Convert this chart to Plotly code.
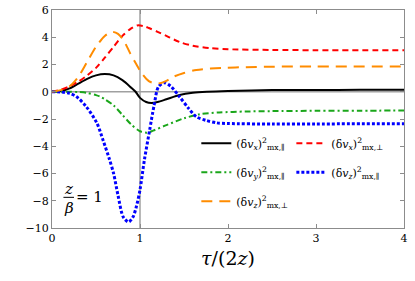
import plotly.graph_objects as go

# ---- data ----
black_x = [0, 0.1, 0.2, 0.3, 0.4, 0.5, 0.6, 0.7, 0.8, 0.9, 0.95, 1.0, 1.07, 1.13, 1.2, 1.3, 1.45, 1.6, 1.76, 2.0, 2.5, 3.0, 3.5, 4.0]
black_y = [0, 0.05, 0.25, 0.6, 0.95, 1.2, 1.3, 1.2, 0.85, 0.3, 0.0, -0.45, -0.75, -0.82, -0.75, -0.55, -0.24, -0.08, 0.0, 0.06, 0.12, 0.13, 0.14, 0.15]

red_x = [0, 0.1, 0.2, 0.3, 0.4, 0.5, 0.6, 0.7, 0.8, 0.9, 0.97, 1.05, 1.1, 1.2, 1.3, 1.45, 1.6, 1.8, 2.0, 2.5, 3.0, 4.0]
red_y = [0, 0.15, 0.4, 0.75, 1.2, 1.75, 2.5, 3.3, 4.1, 4.65, 4.87, 4.8, 4.68, 4.4, 4.1, 3.65, 3.38, 3.2, 3.12, 3.07, 3.05, 3.05]

orange_x = [0, 0.1, 0.2, 0.3, 0.4, 0.5, 0.6, 0.68, 0.75, 0.82, 0.89, 0.96, 1.02, 1.1, 1.17, 1.23, 1.3, 1.38, 1.5, 1.64, 1.8, 1.95, 2.2, 2.5, 3.0, 4.0]
orange_y = [0, 0.12, 0.4, 1.1, 2.2, 3.3, 4.1, 4.4, 4.25, 3.7, 2.8, 2.0, 1.35, 0.78, 0.62, 0.63, 0.8, 1.1, 1.38, 1.6, 1.7, 1.76, 1.8, 1.84, 1.85, 1.86]

green_x = [0, 0.1, 0.2, 0.3, 0.4, 0.5, 0.55, 0.6, 0.7, 0.8, 0.9, 1.0, 1.08, 1.15, 1.3, 1.5, 1.68, 1.9, 2.2, 2.5, 3.0, 3.5, 4.0]
green_y = [0, 0, 0, -0.02, -0.08, -0.25, -0.37, -0.55, -1.0, -1.7, -2.4, -2.9, -3.0, -2.85, -2.45, -1.95, -1.65, -1.52, -1.45, -1.42, -1.4, -1.39, -1.38]

blue_x = [0, 0.1, 0.2, 0.28, 0.39, 0.51, 0.58, 0.65, 0.7, 0.75, 0.81, 0.87, 0.92, 0.96, 1.0, 1.05, 1.11, 1.16, 1.21, 1.28, 1.35, 1.45, 1.55, 1.64, 1.75, 1.87, 2.0, 2.5, 3.0, 4.0]
blue_y = [0, -0.02, -0.12, -0.37, -1.1, -2.3, -3.55, -4.9, -6.0, -7.6, -9.2, -9.56, -9.2, -8.4, -7.2, -5.0, -2.8, -1.0, 0.37, 0.66, 0.4, -0.37, -1.2, -1.84, -2.1, -2.28, -2.33, -2.37, -2.36, -2.35]

x_ticks = [0, 1, 2, 3, 4]
y_ticks = [-10, -8, -6, -4, -2, 0, 2, 4, 6]
y_tick_text = ["−10", "−8", "−6", "−4", "−2", "0", "2", "4", "6"]

names = {
    "black": "(δ<i>v</i><sub><i>x</i></sub>)<sup>2</sup><sub>mx,∥</sub>",
    "red": "(δ<i>v</i><sub><i>x</i></sub>)<sup>2</sup><sub>mx,⊥</sub>",
    "green": "(δ<i>v</i><sub><i>y</i></sub>)<sup>2</sup><sub>mx,∥</sub>",
    "blue": "(δ<i>v</i><sub><i>z</i></sub>)<sup>2</sup><sub>mx,∥</sub>",
    "orange": "(δ<i>v</i><sub><i>z</i></sub>)<sup>2</sup><sub>mx,⊥</sub>",
}

SERIF = "DejaVu Serif"

fig = go.Figure()
spec = [
    (black_x, black_y, "black", "#000000", "solid", 2, "legend"),
    (red_x, red_y, "red", "#ff0000", "6px,4px", 2, "legend2"),
    (green_x, green_y, "green", "#1aa61a", "6px,3px,2px,3px", 2, "legend"),
    (blue_x, blue_y, "blue", "#0000ff", "3px,2px", 3, "legend2"),
    (orange_x, orange_y, "orange", "#ff8c00", "11px,7px", 2, "legend"),
]
for xs, ys, key, col, dash, w, leg in spec:
    fig.add_trace(go.Scatter(
        x=xs, y=ys, mode="lines", name=names[key], legend=leg, legendgroup=key,
        line=dict(color=col, dash=dash, width=w, shape="spline", smoothing=0.8),
    ))

# reference lines at x=1 and y=0
fig.add_shape(type="line", xref="x", yref="paper", x0=1, x1=1, y0=0, y1=1,
              line=dict(color="#a0a0a0", width=1.5), layer="below")
fig.add_shape(type="line", xref="paper", yref="y", x0=0, x1=1, y0=0, y1=0,
              line=dict(color="#a0a0a0", width=1.5), layer="below")

# z/beta = 1 annotation as a stacked fraction
fig.add_annotation(x=0.19, y=-7.15, text="<i>z</i>", showarrow=False,
                   font=dict(family=SERIF, size=15, color="black"))
fig.add_annotation(x=0.19, y=-8.5, text="<i>β</i>", showarrow=False,
                   font=dict(family=SERIF, size=15, color="black"))
fig.add_shape(type="line", xref="x", yref="y", x0=0.13, x1=0.25, y0=-7.75, y1=-7.75,
              line=dict(color="black", width=1))
fig.add_annotation(x=0.43, y=-7.75, text="= 1", showarrow=False,
                   font=dict(family=SERIF, size=15, color="black"))

axis_common = dict(
    showgrid=False, zeroline=False, showline=True, mirror="ticks",
    linecolor="#8c8c8c", linewidth=1, ticks="inside", ticklen=4,
    tickcolor="#8c8c8c", tickfont=dict(family=SERIF, size=11, color="black"),
    automargin=False,
)
fig.update_xaxes(range=[0, 4], tickvals=x_ticks, ticktext=[str(v) for v in x_ticks],
                 title=dict(text="<i>τ</i>/(2<i>z</i>)", font=dict(family=SERIF, size=19, color="black"),
                            standoff=7),
                 **axis_common)
fig.update_yaxes(range=[-10, 6], tickvals=y_ticks, ticktext=y_tick_text, **axis_common)

leg_common = dict(orientation="v", yanchor="top", xanchor="left",
                  bgcolor="rgba(0,0,0,0)", font=dict(family=SERIF, size=11, color="black"),
                  itemwidth=30, tracegroupgap=10)

fig.update_layout(
    width=415, height=281,
    margin=dict(l=52, r=11, t=10, b=53, autoexpand=False),
    plot_bgcolor="white", paper_bgcolor="white",
    legend=dict(x=0.41, y=0.455, **leg_common),
    legend2=dict(x=0.68, y=0.455, **leg_common),
)

# remove the browser's default 8px page margin so the figure sits at the window origin
fig.write_html("out.html", config={"displayModeBar": False},
               post_script="document.body.style.margin='0';")
